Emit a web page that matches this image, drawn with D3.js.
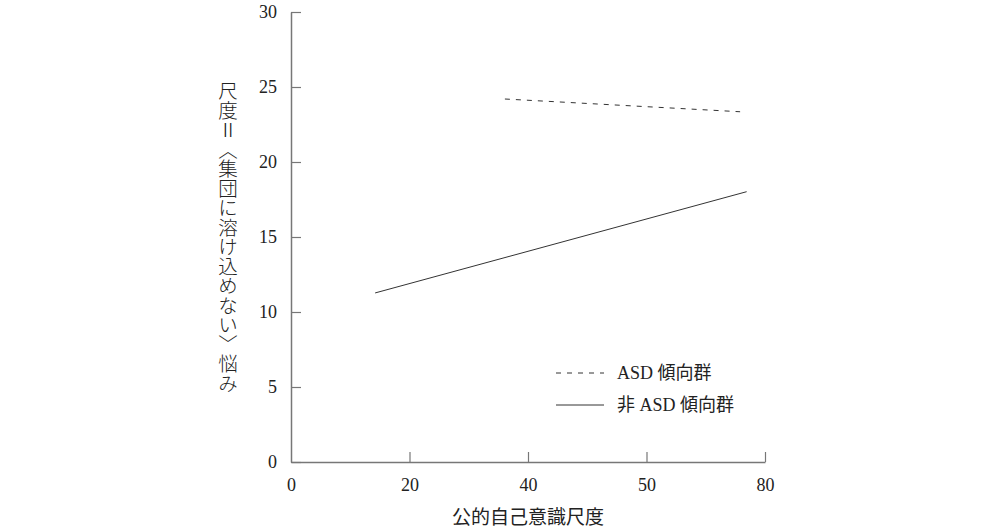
<!DOCTYPE html>
<html lang="ja">
  <head>
    <meta charset="utf-8">
    <title>公的自己意識尺度</title>
    <script src="https://d3js.org/d3.v7.min.js"></script>
    <style>
      body { margin: 0; background: #fff; }
    </style>
  </head>
  <body>
    <script type="text/javascript">
      // tick positions and the labels printed under them (the 4th label reads "50")
      const xTickValues = [0, 20, 40, 60, 80];
      const xTickLabels = ["0", "20", "40", "50", "80"];
      const yTickValues = [0, 5, 10, 15, 20, 25, 30];

      const seriesNames = ["ASD 傾向群", "非 ASD 傾向群"];
      const asdX = [36.1, 75.8];
      const asdY = [24.2, 23.35];
      const nonAsdX = [14.2, 76.9];
      const nonAsdY = [11.27, 18.02];

      const svgWidth = 1000;
      const svgHeight = 530;
      const margin = {top: 12, right: 235, bottom: 68, left: 291};
      const width = svgWidth - margin.left - margin.right;
      const height = svgHeight - margin.top - margin.bottom;

      const serif = "'Liberation Serif', 'DejaVu Serif', serif";
      const jp = "'Liberation Serif', 'Noto Sans CJK JP', serif";
      const axisColor = "#777";
      const inkColor = "#222";

      const svg = d3.select("body")
        .append("svg")
        .attr("width", svgWidth)
        .attr("height", svgHeight);

      const g = svg.append("g")
        .attr("transform", `translate(${margin.left},${margin.top})`);

      const xScale = d3.scaleLinear().domain([0, 80]).range([0, width]);
      const yScale = d3.scaleLinear().domain([0, 30]).range([height, 0]);

      const xAxis = g.append("g")
        .attr("transform", `translate(0,${height})`)
        .call(d3.axisBottom(xScale)
          .tickValues(xTickValues)
          .tickFormat((d, i) => xTickLabels[i])
          .tickSizeInner(-10)
          .tickSizeOuter(0)
          .tickPadding(16));

      const yAxis = g.append("g")
        .call(d3.axisLeft(yScale)
          .tickValues(yTickValues)
          .tickSizeInner(-10)
          .tickSizeOuter(0)
          .tickPadding(14));

      [xAxis, yAxis].forEach(a => {
        a.select(".domain").attr("stroke", axisColor).attr("stroke-width", 1.5);
        a.selectAll(".tick line").attr("stroke", axisColor).attr("stroke-width", 1.2);
        a.selectAll(".tick text")
          .attr("fill", inkColor)
          .attr("font-family", serif)
          .attr("font-size", "18px");
      });
      // the x "0" tick mark would sit on the y axis
      xAxis.selectAll(".tick").filter(d => d === 0).select("line").remove();

      const line = d3.line()
        .x(d => xScale(d[0]))
        .y(d => yScale(d[1]));

      g.append("path")
        .datum(d3.zip(asdX, asdY))
        .attr("d", line)
        .attr("fill", "none")
        .attr("stroke", "#333")
        .attr("stroke-width", 1)
        .attr("stroke-dasharray", "5,6");

      g.append("path")
        .datum(d3.zip(nonAsdX, nonAsdY))
        .attr("d", line)
        .attr("fill", "none")
        .attr("stroke", "#333")
        .attr("stroke-width", 1);

      // legend
      const legend = svg.append("g")
        .attr("transform", "translate(556,373)");
      const dashes = ["5,6", null];
      legend.selectAll("line")
        .data(seriesNames)
        .enter()
        .append("line")
        .attr("x1", 0)
        .attr("x2", 48)
        .attr("y1", (d, i) => i * 32)
        .attr("y2", (d, i) => i * 32)
        .attr("stroke", "#333")
        .attr("stroke-width", 1)
        .attr("stroke-dasharray", (d, i) => dashes[i]);
      legend.selectAll("text")
        .data(seriesNames)
        .enter()
        .append("text")
        .attr("x", 61)
        .attr("y", (d, i) => i * 32 + 6)
        .attr("font-family", jp)
        .attr("font-size", "18px")
        .attr("fill", inkColor)
        .text(d => d);

      // axis titles
      svg.append("text")
        .attr("x", margin.left + xScale(40))
        .attr("y", 524)
        .attr("text-anchor", "middle")
        .attr("font-family", jp)
        .attr("font-size", "19px")
        .attr("fill", inkColor)
        .text("公的自己意識尺度");

      svg.append("text")
        .attr("x", 228)
        .attr("y", 237)
        .attr("text-anchor", "middle")
        .style("writing-mode", "vertical-rl")
        .style("text-orientation", "upright")
        .attr("font-family", "'Noto Sans CJK JP', sans-serif")
        .attr("font-size", "19.5px")
        .attr("font-weight", 300)
        .attr("fill", inkColor)
        .text("尺度Ⅱ〈集団に溶け込めない〉悩み");
    </script>
  </body>
</html>
